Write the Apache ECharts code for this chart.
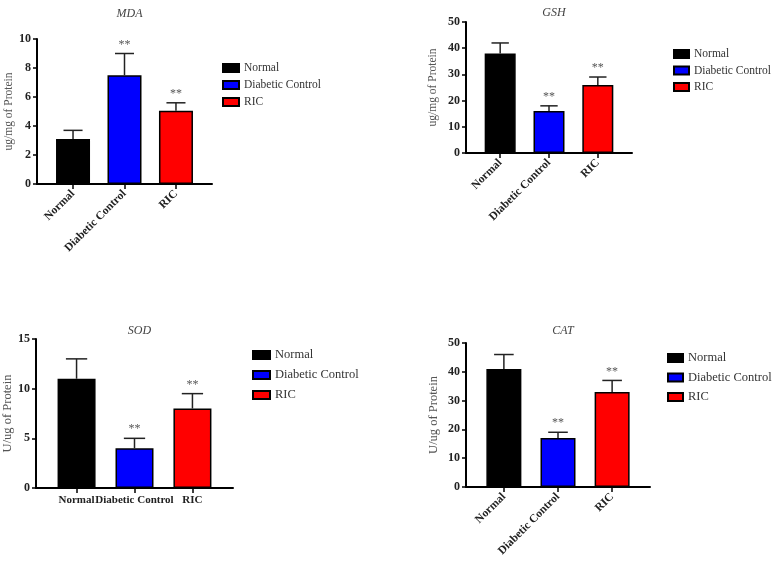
<!DOCTYPE html>
<html>
<head>
<meta charset="utf-8">
<script src="https://cdn.jsdelivr.net/npm/echarts@6/dist/echarts.min.js"></script>
<style>
  html, body { margin: 0; padding: 0; background: #fff; }
  #chart { width: 772px; height: 561px; }
</style>
</head>
<body>
<div id="chart"></div>
<script>
// groups, shared by all four panels
const categories = ["Normal", "Diabetic Control", "RIC"];
const barColors = ["#000000", "#0000ff", "#ff0000"];

// mean values and top of the error bar (mean + SD)
const mdaMean = [3.1, 7.5, 5.05];
const mdaUpper = [3.7, 9.0, 5.6];
const mdaSig = ["", "**", "**"];

const gshMean = [38, 16, 26];
const gshUpper = [42, 18, 29];
const gshSig = ["", "**", "**"];

const sodMean = [11, 4, 8];
const sodUpper = [13, 5, 9.5];
const sodSig = ["", "**", "**"];

const catMean = [41, 17, 33];
const catUpper = [46, 19, 37];
const catSig = ["", "**", "**"];

// y ticks
const mdaTicks = [0, 2, 4, 6, 8, 10];
const gshTicks = [0, 10, 20, 30, 40, 50];
const sodTicks = [0, 5, 10, 15];
const catTicks = [0, 10, 20, 30, 40, 50];

const FONT = "Liberation Serif";

// layout of the panels
const panels = [
  {
    title: "MDA", yName: "ug/mg of Protein", mean: mdaMean, upper: mdaUpper, sig: mdaSig, ticks: mdaTicks,
    grid: { left: 37, top: 39, width: 175, height: 145 }, titleTop: 3, barWidth: 34, rotate: 45, nameGap: 19,
    legend: { left: 217, top: 57, gap: 5, fontSize: 11.5, lineHeight: 12, itemWidth: 16 },
  },
  {
    title: "GSH", yName: "ug/mg of Protein", mean: gshMean, upper: gshUpper, sig: gshSig, ticks: gshTicks,
    grid: { left: 466, top: 22, width: 166, height: 131 }, titleTop: 2, barWidth: 31, rotate: 45, nameGap: 27,
    legend: { left: 668, top: 43, gap: 4.5, fontSize: 11.5, lineHeight: 12, itemWidth: 15 },
  },
  {
    title: "SOD", yName: "U/ug of Protein", mean: sodMean, upper: sodUpper, sig: sodSig, ticks: sodTicks,
    grid: { left: 36, top: 339, width: 197, height: 149 }, titleTop: 320, barWidth: 38, rotate: 0, nameGap: 20,
    legend: { left: 247, top: 343.5, gap: 7, fontSize: 12.5, lineHeight: 13, itemWidth: 17 },
  },
  {
    title: "CAT", yName: "U/ug of Protein", mean: catMean, upper: catUpper, sig: catSig, ticks: catTicks,
    grid: { left: 466, top: 343, width: 184, height: 144 }, titleTop: 320, barWidth: 35, rotate: 45, nameGap: 26,
    legend: { left: 662, top: 346.5, gap: 6.5, fontSize: 12.5, lineHeight: 13, itemWidth: 15 },
  },
];

const title = [];
const grid = [];
const xAxis = [];
const yAxis = [];
const legend = [];
const series = [];

panels.forEach((p, k) => {
  grid.push(p.grid);

  title.push({
    text: p.title,
    left: p.grid.left + p.grid.width / 2,
    top: p.titleTop,
    textAlign: "center",
    textStyle: { fontFamily: FONT, fontStyle: "italic", fontWeight: "normal", fontSize: 12, color: "#444" },
  });

  xAxis.push({
    type: "value",
    gridIndex: k,
    min: -0.7,
    max: 2.7,
    splitLine: { show: false },
    axisLine: { show: true, onZero: false, lineStyle: { color: "#000", width: 2 } },
    axisTick: { show: true, customValues: [0, 1, 2], length: 5, lineStyle: { color: "#000", width: 1.5 } },
    axisLabel: {
      customValues: [0, 1, 2],
      rotate: p.rotate,
      margin: p.rotate ? 8 : 7,
      hideOverlap: false,
      showMinLabel: true,
      showMaxLabel: true,
      fontFamily: FONT,
      fontWeight: "bold",
      fontSize: p.rotate ? 11.5 : 11,
      color: "#222",
      formatter: (v) => categories[v],
    },
  });

  yAxis.push({
    type: "value",
    gridIndex: k,
    min: p.ticks[0],
    max: p.ticks[p.ticks.length - 1],
    interval: p.ticks[1] - p.ticks[0],
    name: p.yName,
    nameLocation: "middle",
    nameGap: p.nameGap,
    nameTextStyle: { fontFamily: FONT, fontSize: k < 2 ? 11.5 : 12.5, color: "#555" },
    splitLine: { show: false },
    axisLine: { show: true, onZero: false, lineStyle: { color: "#000", width: 2 } },
    axisTick: { show: true, length: 4, lineStyle: { color: "#000", width: 1.5 } },
    axisLabel: { fontFamily: FONT, fontWeight: "bold", fontSize: 12, color: "#222", margin: 6 },
  });

  legend.push({
    orient: "vertical",
    left: p.legend.left,
    top: p.legend.top,
    itemGap: p.legend.gap,
    itemWidth: p.legend.itemWidth,
    itemHeight: 8,
    icon: "rect",
    data: categories,
    selectedMode: false,
    textStyle: {
      fontFamily: FONT,
      fontSize: p.legend.fontSize,
      lineHeight: p.legend.lineHeight,
      color: "#333",
      padding: [0, 0, 0, 0],
    },
  });

  categories.forEach((name, i) => {
    series.push({
      type: "bar",
      name: name,
      xAxisIndex: k,
      yAxisIndex: k,
      barWidth: p.barWidth,
      barGap: "-100%",
      itemStyle: { color: barColors[i], borderColor: "#000", borderWidth: 1.5 },
      data: [[i, p.mean[i]]],
      z: 2,
    });
  });

  // error bars (upper only) and significance stars
  series.push({
    type: "custom",
    name: "err" + k,
    xAxisIndex: k,
    yAxisIndex: k,
    z: 5,
    silent: true,
    data: categories.map((c, i) => [i, p.mean[i], p.upper[i]]),
    renderItem(params, api) {
      const base = api.coord([api.value(0), api.value(1)]);
      const top = api.coord([api.value(0), api.value(2)]);
      const half = p.barWidth * 0.28;
      const style = { stroke: "#222", lineWidth: 1.5 };
      const children = [
        { type: "line", shape: { x1: base[0], y1: base[1], x2: top[0], y2: top[1] }, style },
        { type: "line", shape: { x1: top[0] - half, y1: top[1], x2: top[0] + half, y2: top[1] }, style },
      ];
      const star = p.sig[params.dataIndex];
      if (star) {
        children.push({
          type: "text",
          style: {
            text: star,
            x: top[0],
            y: top[1] - 3,
            align: "center",
            verticalAlign: "bottom",
            font: "12px " + FONT,
            fill: "#555",
          },
        });
      }
      return { type: "group", children };
    },
  });
});

const chart = echarts.init(document.getElementById("chart"), null, { renderer: "canvas" });
chart.setOption({
  backgroundColor: "#fff",
  animation: false,
  title,
  grid,
  xAxis,
  yAxis,
  legend,
  series,
});
</script>
</body>
</html>
